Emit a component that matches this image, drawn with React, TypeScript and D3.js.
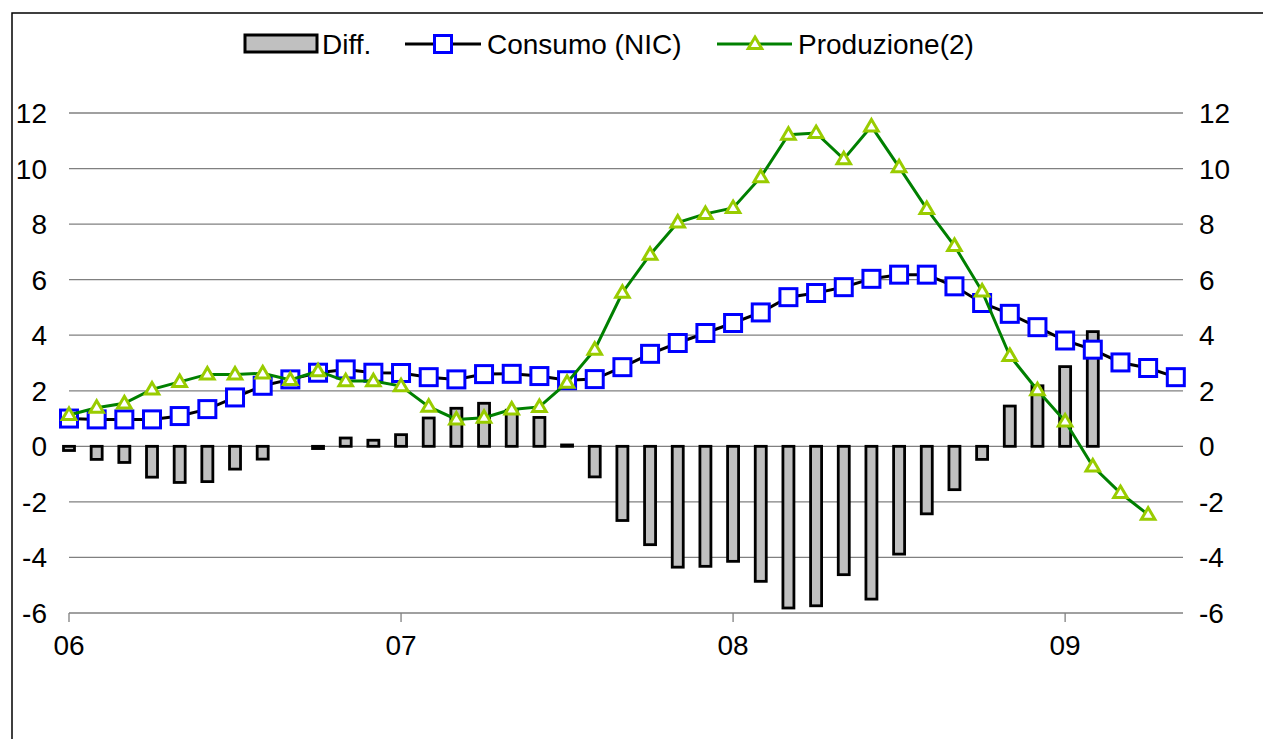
import React from "react";
import * as d3 from "d3";

const consumo = [
  1.0, 0.97, 0.97, 0.97, 1.09, 1.34, 1.76, 2.18, 2.41, 2.65, 2.77, 2.65,
  2.64, 2.49, 2.41, 2.6, 2.61, 2.53, 2.38, 2.42, 2.85, 3.33, 3.72, 4.08,
  4.44, 4.82, 5.37, 5.52, 5.73, 6.03, 6.18, 6.18, 5.76, 5.16, 4.77, 4.29,
  3.81, 3.48, 3.02, 2.82, 2.49,
];
const produzione = [
  1.13, 1.39, 1.55, 2.05, 2.32, 2.59, 2.59, 2.63, 2.39, 2.71, 2.35, 2.35,
  2.17, 1.43, 0.97, 1.03, 1.33, 1.42, 2.29, 3.48, 5.53, 6.9, 8.06, 8.37,
  8.58, 9.69, 11.22, 11.28, 10.34, 11.52, 10.05, 8.55, 7.22, 5.58, 3.26, 2.02,
  0.9, -0.72, -1.68, -2.46,
];
const diff = [
  -0.15, -0.47, -0.58, -1.11, -1.3, -1.27, -0.82, -0.46, 0, -0.08, 0.3, 0.22,
  0.42, 1.02, 1.37, 1.55, 1.3, 1.04, 0.05, -1.1, -2.67, -3.54, -4.35, -4.32,
  -4.14, -4.86, -5.82, -5.74, -4.62, -5.5, -3.88, -2.43, -1.56, -0.47, 1.45, 2.18,
  2.87, 4.13,
];
const yearLabels = ["06", "07", "08", "09"];
const yearStarts = [0, 12, 24, 36];
const yTicks = [-6, -4, -2, 0, 2, 4, 6, 8, 10, 12];
const seriesNames = ["Diff.", "Consumo (NIC)", "Produzione(2)"];

const W = 1263;
const H = 739;
const FONT = "Arial, 'Liberation Sans', sans-serif";
const X_END = 40.26;

export default function App() {
  const x = d3.scaleLinear().domain([0, X_END]).range([69, 1183]);
  const y = d3.scaleLinear().domain([-6, 12]).range([613, 113]);

  const line = d3
    .line<number>()
    .x((_, i) => x(i))
    .y((d) => y(d));

  const barW = 11;
  const sq = 17;
  const tri = (cx: number, cy: number) => {
    const s = 13.5;
    const h = 11.5;
    return `M${cx},${cy - h * 0.6}L${cx + s / 2},${cy + h * 0.4}L${cx - s / 2},${cy + h * 0.4}Z`;
  };

  return (
    <svg
      width={W}
      height={H}
      style={{ position: "absolute", left: 0, top: 0, background: "#fff" }}
      fontFamily={FONT}
    >
      <rect x={12} y={13} width={1400} height={900} fill="#fff" stroke="#000" strokeWidth={1.5} />

      {/* gridlines */}
      {yTicks.map((t) => (
        <line
          key={"g" + t}
          x1={x(0)}
          x2={x(X_END)}
          y1={y(t)}
          y2={y(t)}
          stroke="#808080"
          strokeWidth={1.3}
        />
      ))}
      {/* x ticks */}
      {yearStarts.map((m) => (
        <line key={"t" + m} x1={x(m)} x2={x(m)} y1={y(-6)} y2={y(-6) + 9} stroke="#808080" strokeWidth={1.3} />
      ))}
      {yearStarts.map((m, i) => (
        <text key={"xl" + m} x={x(m)} y={655} fontSize={28} textAnchor="middle" fill="#000">
          {yearLabels[i]}
        </text>
      ))}
      {/* y labels */}
      {yTicks.map((t) => (
        <text key={"yl" + t} x={47} y={y(t) + 10} fontSize={28} textAnchor="end" fill="#000">
          {t}
        </text>
      ))}
      {yTicks.map((t) => (
        <text key={"yr" + t} x={1199} y={y(t) + 10} fontSize={28} textAnchor="start" fill="#000">
          {t}
        </text>
      ))}

      {/* bars */}
      {diff.map((d, i) => {
        const y0 = y(0);
        const y1 = y(d);
        const top = Math.min(y0, y1);
        const h = Math.max(Math.abs(y1 - y0), 0.01);
        return (
          <rect
            key={"b" + i}
            x={x(i) - barW / 2}
            y={top}
            width={barW}
            height={h}
            fill="#c0c0c0"
            stroke="#000"
            strokeWidth={d === 0 ? 0 : 2.8}
          />
        );
      })}

      {/* consumo */}
      <path d={line(consumo) || ""} fill="none" stroke="#000" strokeWidth={3} />
      {consumo.map((d, i) => (
        <rect
          key={"s" + i}
          x={x(i) - sq / 2}
          y={y(d) - sq / 2}
          width={sq}
          height={sq}
          fill="#fff"
          stroke="#0000ff"
          strokeWidth={3}
        />
      ))}

      {/* produzione */}
      <path d={line(produzione) || ""} fill="none" stroke="#008000" strokeWidth={3} />
      {produzione.map((d, i) => (
        <path key={"p" + i} d={tri(x(i), y(d))} fill="#fff" stroke="#99cc00" strokeWidth={3} strokeLinejoin="miter" />
      ))}

      {/* legend */}
      <rect x={245} y={35} width={72} height={17} fill="#c0c0c0" stroke="#000" strokeWidth={3} />
      <text x={322} y={54} fontSize={28} fill="#000">{seriesNames[0]}</text>
      <line x1={405} x2={481} y1={44} y2={44} stroke="#000" strokeWidth={3} />
      <rect x={443 - sq / 2} y={44 - sq / 2} width={sq} height={sq} fill="#fff" stroke="#0000ff" strokeWidth={3} />
      <text x={487} y={54} fontSize={28} fill="#000">{seriesNames[1]}</text>
      <line x1={717} x2={792} y1={44} y2={44} stroke="#008000" strokeWidth={3} />
      <path d={tri(755, 44)} fill="#fff" stroke="#99cc00" strokeWidth={3} />
      <text x={798} y={54} fontSize={28} fill="#000">{seriesNames[2]}</text>
    </svg>
  );
}
